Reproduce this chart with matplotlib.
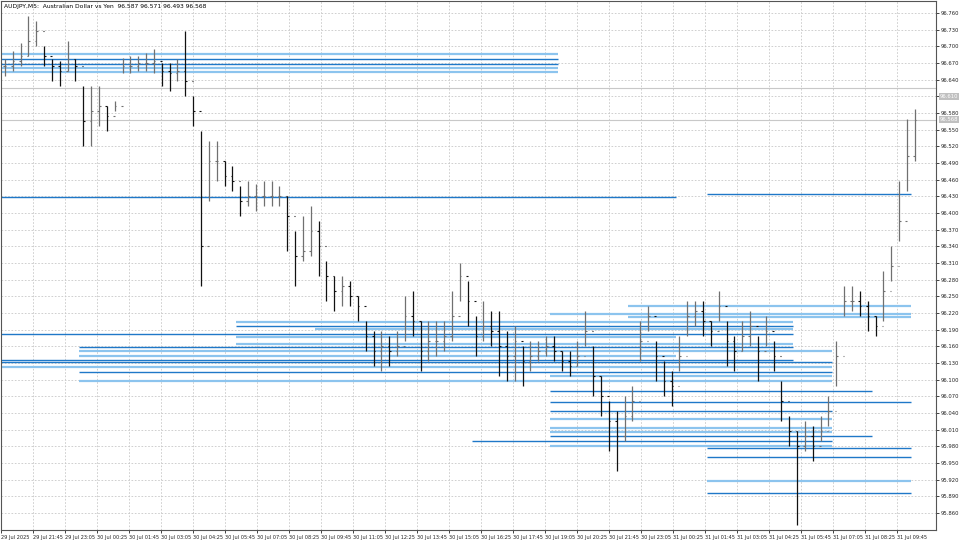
import matplotlib
matplotlib.use("Agg")
import matplotlib.pyplot as plt

title = "AUDJPY,M5:  Australian Dollar vs Yen  96.587 96.571 96.493 96.568"

closes = [96.665,96.674,96.683,96.710,96.728,96.683,96.665,96.656,96.678,96.665,
96.566,96.584,96.593,96.575,96.593,96.665,96.665,96.670,96.670,96.674,
96.656,96.652,96.656,96.638,96.584,96.341,96.494,96.494,96.467,96.458,
96.422,96.431,96.431,96.431,96.431,96.431,96.395,96.323,96.332,96.368,
96.341,96.287,96.260,96.269,96.251,96.233,96.179,96.152,96.161,96.152,
96.161,96.215,96.206,96.152,96.170,96.170,96.179,96.215,96.287,96.242,
96.179,96.197,96.188,96.161,96.143,96.170,96.134,96.143,96.152,96.161,
96.152,96.134,96.125,96.143,96.188,96.107,96.071,96.026,95.999,96.035,
96.062,96.170,96.215,96.143,96.098,96.089,96.143,96.215,96.224,96.206,
96.188,96.233,96.170,96.152,96.179,96.197,96.152,96.188,96.143,96.062,
96.008,95.981,95.999,95.981,96.008,96.044,96.143,96.242,96.242,96.233,
96.215,96.197,96.260,96.305,96.386,96.503,96.568]
highs = [96.678,96.692,96.706,96.755,96.746,96.701,96.678,96.674,96.710,96.678,
96.629,96.629,96.629,96.593,96.602,96.679,96.683,96.683,96.688,96.696,
96.670,96.670,96.678,96.728,96.611,96.548,96.530,96.530,96.494,96.485,
96.449,96.458,96.453,96.458,96.458,96.449,96.431,96.368,96.395,96.413,
96.386,96.314,96.287,96.287,96.278,96.251,96.206,96.188,96.188,96.179,
96.188,96.251,96.260,96.206,96.206,96.206,96.206,96.260,96.310,96.278,
96.215,96.242,96.224,96.224,96.188,96.197,96.161,96.170,96.170,96.179,
96.179,96.152,96.152,96.170,96.224,96.161,96.107,96.062,96.044,96.071,
96.089,96.206,96.233,96.170,96.134,96.116,96.179,96.242,96.242,96.242,
96.206,96.260,96.206,96.179,96.206,96.224,96.179,96.215,96.170,96.098,
96.035,96.008,96.026,96.017,96.035,96.071,96.170,96.269,96.269,96.260,
96.242,96.215,96.296,96.341,96.458,96.570,96.587]
lows = [96.647,96.656,96.665,96.683,96.701,96.665,96.638,96.629,96.656,96.638,
96.521,96.521,96.557,96.548,96.584,96.652,96.652,96.656,96.656,96.652,
96.629,96.620,96.638,96.611,96.557,96.269,96.422,96.458,96.449,96.440,
96.395,96.413,96.404,96.413,96.413,96.413,96.332,96.269,96.314,96.323,
96.287,96.242,96.224,96.233,96.233,96.206,96.152,96.125,96.116,96.125,
96.143,96.170,96.179,96.116,96.134,96.143,96.152,96.170,96.242,96.197,
96.143,96.170,96.161,96.107,96.098,96.098,96.089,96.116,96.134,96.143,
96.134,96.116,96.107,96.125,96.161,96.071,96.035,95.972,95.936,95.990,
96.026,96.134,96.188,96.098,96.071,96.053,96.116,96.179,96.197,96.179,
96.161,96.206,96.125,96.116,96.152,96.161,96.098,96.161,96.116,96.026,
95.981,95.838,95.972,95.954,95.990,96.017,96.089,96.215,96.224,96.215,
96.188,96.179,96.206,96.278,96.350,96.440,96.493]

# horizontal levels: price, start bar, end bar, shade (L light / D dark)
lvl_price = [96.687,96.678,96.669,96.661,96.654,96.428,96.435,96.233,96.219,96.213,
96.204,96.197,96.192,96.183,96.177,96.165,96.159,96.152,96.143,96.136,
96.131,96.122,96.114,96.107,96.097,96.080,96.059,96.044,96.030,96.013,
96.006,95.999,95.990,95.981,95.977,95.961,95.918,95.896]
lvl_start = [0,0,0,0,0,0,90,80,70,80,30,30,40,0,30,30,10,10,10,0,0,0,10,70,10,70,70,70,70,70,70,70,60,70,90,90,90,90,90]
lvl_end = [70,70,70,70,70,85,115,115,115,115,100,100,100,100,85,100,100,105,85,100,105,105,105,105,105,110,115,105,105,105,105,110,105,105,115,115,115,115,115]
lvl_shade = "LDDLLDDLLLLDLDLLDLLDDLDLLDDDLLLDDLDDLDL"

date_labels = ["29 Jul 2025","29 Jul 21:45","29 Jul 23:05","30 Jul 00:25","30 Jul 01:45",
"30 Jul 03:05","30 Jul 04:25","30 Jul 05:45","30 Jul 07:05","30 Jul 08:25","30 Jul 09:45",
"30 Jul 11:05","30 Jul 12:25","30 Jul 13:45","30 Jul 15:05","30 Jul 16:25","30 Jul 17:45",
"30 Jul 19:05","30 Jul 20:25","30 Jul 21:45","30 Jul 23:05","31 Jul 00:25","31 Jul 01:45",
"31 Jul 03:05","31 Jul 04:25","31 Jul 05:45","31 Jul 07:05","31 Jul 08:25","31 Jul 09:45"]
price_ticks = [round(95.860 + 0.03*k, 3) for k in range(31)]

n = min(len(closes), len(highs), len(lows))
W = 119.2
fig = plt.figure(figsize=(9.6, 5.4), dpi=100)
fig.patch.set_facecolor("white")
ax = fig.add_axes([0.001, 10/540, 935/960, 529/540])
ax.set_xlim(-0.5, W - 0.5)
ax.set_ylim(95.8295, 96.7816)

m = min(len(lvl_price), len(lvl_start), len(lvl_end), len(lvl_shade))
for i in range(m):
    light = lvl_shade[i] == "L"
    ax.hlines(lvl_price[i], lvl_start[i]-0.5, lvl_end[i]+0.5,
              color="#8cc4ee" if light else "#1f78c8", lw=1.6 if light else 1.0, zorder=2)

for i in range(n):
    o = closes[i-1] if i > 0 else closes[i]
    c = closes[i]
    col = "#111111" if c < o else "#707070"
    ax.vlines(i, lows[i], highs[i], color=col, lw=0.9, zorder=3)
    ax.hlines(o, i-0.2, i, color=col, lw=0.8, zorder=3)
    ax.hlines(c, i, i+0.2, color=col, lw=0.8, zorder=3)

ax.axhline(96.625, color="#c8c8c8", lw=0.8, zorder=1)
ax.axhline(96.568, color="#c8c8c8", lw=0.8, zorder=1)

xt = [-0.5 + 32*k*W/935 for k in range(len(date_labels))]
ax.set_xticks(xt)
ax.set_xticklabels(date_labels, fontsize=3.6, ha="left")
ax.set_yticks(price_ticks)
ax.set_yticklabels([f"{p:.3f}" for p in price_ticks], fontsize=3.8)
ax.yaxis.tick_right()
ax.tick_params(length=2, width=0.6, pad=1.5, colors="#222222")
ax.grid(True, color="#c8c8c8", ls=(0, (2, 2)), lw=0.6)
for s in ax.spines.values():
    s.set_color("#555555"); s.set_linewidth(0.8)

for p, lab in [(96.610, "96.610"), (96.568, "96.568")]:
    ax.text(1.004, (p-95.8295)/(96.7816-95.8295), lab, transform=ax.transAxes, fontsize=3.8,
            va="center", ha="left", color="white",
            bbox=dict(boxstyle="square,pad=0.15", fc="#c0c0c0", ec="none"))

ax.text(0.003, 0.995, title, transform=ax.transAxes, fontsize=4.3, va="top", ha="left")
fig.savefig("out.png", dpi=100)
